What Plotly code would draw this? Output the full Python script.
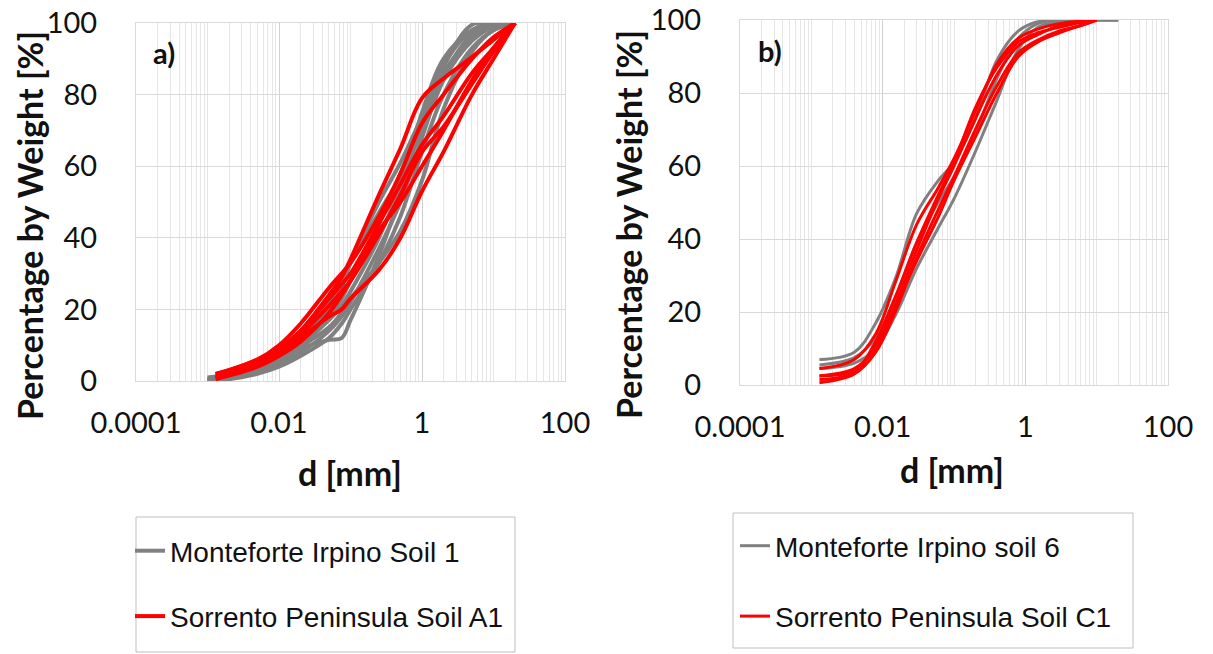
import plotly.graph_objects as go

# ---------------- data: panel a ----------------
d_a_gray = [0.001, 0.002, 0.005, 0.01, 0.02, 0.05, 0.075, 0.1, 0.25, 0.5, 1, 2, 5, 10, 20]
gray_a_curves = [
    [0.5, 1.5, 4, 7, 12, 20, 26, 33, 50, 61, 74, 88, 99.5, 100, 100],
    [0, 1, 3, 5.5, 9, 11.5, 12, 17, 35, 52, 72, 86, 96, 100, 100],
    [0.5, 1.5, 3.5, 6, 10, 17, 21, 25, 40, 55, 75, 90, 98, 100, 100],
    [0, 0.8, 2.5, 5, 8, 14, 18, 22, 37, 50, 68, 84, 95, 99, 100],
    [1, 2, 4.5, 8, 13, 22, 28, 33, 47, 57, 70, 85, 97, 100, 100],
    [0.3, 1, 3, 5.5, 9.5, 15, 19, 23, 33, 42, 56, 76, 92, 98, 100],
    [0.5, 1.2, 3, 6.5, 11, 18, 23, 28, 44, 58, 72, 88, 98, 100, 100],
    [0, 0.5, 2, 4, 7, 12, 16, 20, 33, 46, 64, 80, 93, 98, 100],
]
d_a_red = [0.0013, 0.002, 0.005, 0.01, 0.02, 0.05, 0.075, 0.1, 0.25, 0.5, 1, 2, 5, 10, 20]
red_a_curves = [
    [2, 3, 6, 9, 14, 24, 29, 34, 52, 65, 79, 84.5, 90.5, 95.3, 100],
    [1, 2, 4.5, 7.5, 12, 18, 20, 23, 31, 40, 53, 64, 80, 90, 100],
    [1.5, 2.5, 5.5, 9, 14, 23, 27, 30, 44, 55, 66, 74, 86, 93, 100],
    [1, 2, 5, 8, 13, 21, 25, 28, 41, 52, 64, 71, 83, 92, 100],
    [2, 3, 6, 10, 16, 26, 30, 33, 46, 58, 72, 80, 90, 96, 100],
    [0.5, 1.5, 4, 7, 11, 19, 24, 28, 42, 50, 60, 70, 84, 93, 100],
]

# ---------------- data: panel b ----------------
d_b_gray = [0.0013, 0.004, 0.008, 0.015, 0.03, 0.06, 0.1, 0.2, 0.4, 0.8, 1.5, 3, 6, 10, 20]
gray_b_curves = [
    [7, 9, 17, 29, 47, 56, 61, 73, 89, 97, 99.5, 100, 100, 100, 100],
    [4.5, 6, 10, 19, 32, 43, 51, 64, 78, 92, 98, 99.5, 100, 100, 100],
    [5.5, 7.5, 13, 24, 39, 50, 57, 69, 84, 95, 99, 100, 100, 100, 100],
]
d_b_red = [0.0013, 0.004, 0.008, 0.015, 0.03, 0.06, 0.1, 0.2, 0.4, 0.8, 1.5, 3, 6, 10]
red_b_curves = [
    [4.5, 7, 14, 28, 44, 54, 62, 75, 88, 95, 97.5, 99, 99.7, 100],
    [2.5, 4, 11, 22, 37, 51, 60, 73, 85, 93, 96, 98.5, 99.5, 100],
    [0.6, 3, 9, 20, 35, 48, 57, 70, 82, 91, 94.5, 97, 98.5, 100],
    [1.5, 3.5, 12, 24, 39, 52, 61, 76, 87, 94, 96.5, 98, 99.3, 100],
    [2.5, 4.5, 10, 21, 34, 46, 56, 68, 80, 90, 94, 96.5, 98.5, 100],
]

x_tickvals = [0.0001, 0.01, 1, 100]
x_ticktext = ["0.0001", "0.01", "1", "100"]
y_tickvals = [0, 20, 40, 60, 80, 100]

names_a = ["Monteforte Irpino Soil 1", "Sorrento Peninsula Soil A1"]
names_b = ["Monteforte Irpino soil 6", "Sorrento Peninsula Soil C1"]

GRAY = "#808080"
RED = "#ff0000"

W, H = 1213, 654

fig = go.Figure()

# panel a
for i, ys in enumerate(gray_a_curves):
    fig.add_trace(go.Scatter(x=d_a_gray, y=ys, mode="lines", xaxis="x", yaxis="y",
                             line=dict(color=GRAY, width=4, shape="spline", smoothing=1),
                             name=names_a[0], legendgroup="ga", showlegend=(i == 0), legend="legend"))
for i, ys in enumerate(red_a_curves):
    fig.add_trace(go.Scatter(x=d_a_red, y=ys, mode="lines", xaxis="x", yaxis="y",
                             line=dict(color=RED, width=4, shape="spline", smoothing=1),
                             name=names_a[1], legendgroup="ra", showlegend=(i == 0), legend="legend"))
# panel b
for i, ys in enumerate(gray_b_curves):
    fig.add_trace(go.Scatter(x=d_b_gray, y=ys, mode="lines", xaxis="x2", yaxis="y2",
                             line=dict(color=GRAY, width=3, shape="spline", smoothing=1),
                             name=names_b[0], legendgroup="gb", showlegend=(i == 0), legend="legend2"))
for i, ys in enumerate(red_b_curves):
    fig.add_trace(go.Scatter(x=d_b_red, y=ys, mode="lines", xaxis="x2", yaxis="y2",
                             line=dict(color=RED, width=3, shape="spline", smoothing=1),
                             name=names_b[1], legendgroup="rb", showlegend=(i == 0), legend="legend2"))

TICKFONT = dict(family="Lato, Open Sans, sans-serif", size=29, color="#111111")


def xaxis_cfg(domain, anchor):
    return dict(type="log", domain=domain, anchor=anchor, range=[-4, 2],
                tickmode="array", tickvals=x_tickvals, ticktext=x_ticktext,
                tickfont=TICKFONT, ticks="", ticklabelstandoff=16,
                showgrid=True, gridcolor="#d0d0d0", gridwidth=1,
                minor=dict(dtick="D1", showgrid=True, gridcolor="#e6e6e6", gridwidth=1, ticks=""),
                showline=True, mirror=True, linecolor="#d9d9d9", linewidth=1, zeroline=False)


def yaxis_cfg(domain, anchor):
    return dict(domain=domain, anchor=anchor, range=[0, 100],
                tickmode="array", tickvals=y_tickvals,
                tickfont=TICKFONT, ticks="", ticklabelstandoff=32,
                showgrid=True, gridcolor="#d9d9d9", gridwidth=1,
                showline=True, mirror=True, linecolor="#d9d9d9", linewidth=1, zeroline=False)


fig.update_layout(
    width=W, height=H,
    margin=dict(l=0, r=0, t=0, b=0, autoexpand=False),
    paper_bgcolor="white", plot_bgcolor="white",
    xaxis=xaxis_cfg([136 / W, 565 / W], "y"),
    yaxis=yaxis_cfg([1 - 381 / H, 1 - 23 / H], "x"),
    xaxis2=xaxis_cfg([740 / W, 1168 / W], "y2"),
    yaxis2=yaxis_cfg([1 - 385 / H, 1 - 20 / H], "x2"),
    legend=dict(x=130 / W, y=1 - 526 / H, xanchor="left", yanchor="top",
                bgcolor="rgba(0,0,0,0)", borderwidth=0, traceorder="grouped",
                tracegroupgap=26, font=dict(family="Liberation Sans, Arial", size=28, color="#111")),
    legend2=dict(x=735 / W, y=1 - 521 / H, xanchor="left", yanchor="top",
                 bgcolor="rgba(0,0,0,0)", borderwidth=0, traceorder="grouped",
                 tracegroupgap=31, font=dict(family="Liberation Sans, Arial", size=28, color="#111")),
    showlegend=True,
)

TITLEFONT = dict(family="Lato, Open Sans, sans-serif", size=34, color="#111")
ann = [
    dict(text="<b>Percentage by Weight [%]</b>", x=29 / W, y=1 - 226 / H, textangle=-90),
    dict(text="<b>Percentage by Weight [%]</b>", x=628 / W, y=1 - 225 / H, textangle=-90),
    dict(text="<b>d [mm]</b>", x=350 / W, y=1 - 472 / H),
    dict(text="<b>d [mm]</b>", x=952 / W, y=1 - 470 / H),
]
for a in ann:
    fig.add_annotation(xref="paper", yref="paper", showarrow=False, xanchor="center", yanchor="middle",
                       font=TITLEFONT, **a)
fig.add_annotation(xref="paper", yref="paper", showarrow=False, text="<b>a)</b>", x=164 / W, y=1 - 52 / H,
                   xanchor="center", yanchor="middle", font=dict(family="Lato, sans-serif", size=29, color="#111"))
fig.add_annotation(xref="paper", yref="paper", showarrow=False, text="<b>b)</b>", x=770 / W, y=1 - 50 / H,
                   xanchor="center", yanchor="middle", font=dict(family="Lato, sans-serif", size=29, color="#111"))

# legend boxes
fig.add_shape(type="rect", xref="paper", yref="paper", x0=136 / W, x1=515 / W, y0=1 - 652 / H, y1=1 - 517 / H,
              line=dict(color="#bfbfbf", width=1), fillcolor="rgba(0,0,0,0)", layer="below")
fig.add_shape(type="rect", xref="paper", yref="paper", x0=733 / W, x1=1133 / W, y0=1 - 648 / H, y1=1 - 513 / H,
              line=dict(color="#bfbfbf", width=1), fillcolor="rgba(0,0,0,0)", layer="below")

fig.write_html("out.html")
